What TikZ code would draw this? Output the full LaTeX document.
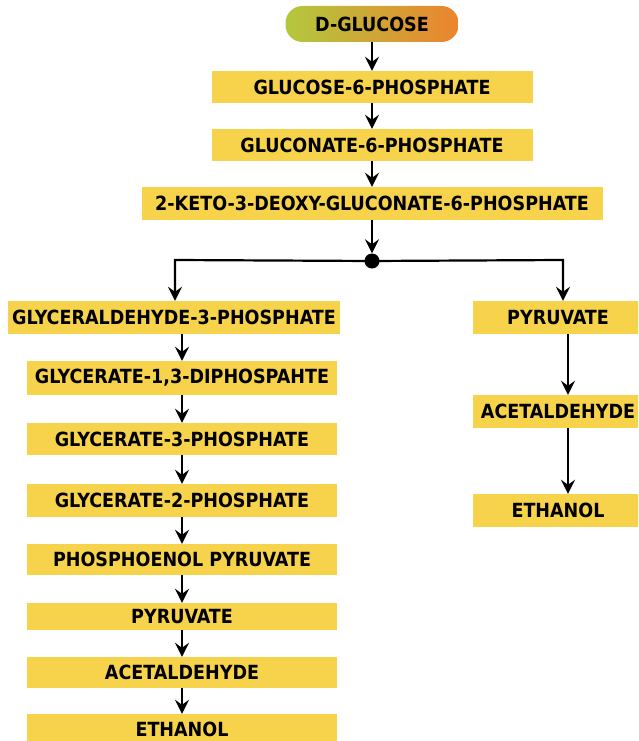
\documentclass[tikz,border=0pt]{standalone}
\usepackage{fontspec}
\setmainfont{DejaVu Sans}
\newfontfamily\boxfont{DejaVu Sans Condensed}
\usetikzlibrary{arrows.meta,shapes.geometric}
\definecolor{boxyellow}{RGB}{247,210,75}
\definecolor{startgreen}{RGB}{178,200,62}
\definecolor{endorange}{RGB}{236,132,46}
\tikzset{
  x=1pt,y=-1pt,
  stepbox/.style={fill=boxyellow, inner sep=0pt, font=\boxfont\bfseries\fontsize{19.5}{20}\selectfont},
  flow/.style={line width=2.2pt, -{Stealth[length=14pt,width=14pt,inset=5pt]}},
}
\begin{document}
\begin{tikzpicture}
\useasboundingbox (0,0) rectangle (638,741);
\clip (0,0) rectangle (638,741);
% start
\node[rounded corners=17pt, left color=startgreen, right color=endorange, minimum width=173pt, minimum height=36pt, inner sep=0pt, font=\boxfont\bfseries\fontsize{19.5}{20}\selectfont] (glc) at (372,24) {D-GLUCOSE};
\node[stepbox, minimum width=321pt, minimum height=32pt] (g6p) at (372,87) {GLUCOSE-6-PHOSPHATE};
\node[stepbox, minimum width=321pt, minimum height=32pt] (gn6p) at (372,145) {GLUCONATE-6-PHOSPHATE};
\node[stepbox, minimum width=461pt, minimum height=33pt] (kdg) at (372,203.5) {2-KETO-3-DEOXY-GLUCONATE-6-PHOSPHATE};
\node[circle, fill=black, minimum size=15pt, inner sep=0pt] (dot) at (372,261) {};
% left branch
\node[stepbox, minimum width=332pt, minimum height=33pt] (ga3p) at (174,317.5) {GLYCERALDEHYDE-3-PHOSPHATE};
\node[stepbox, minimum width=310pt, minimum height=34pt] (g13) at (182,378) {GLYCERATE-1,3-DIPHOSPAHTE};
\node[stepbox, minimum width=310pt, minimum height=32pt] (g3p) at (182,439) {GLYCERATE-3-PHOSPHATE};
\node[stepbox, minimum width=310pt, minimum height=33pt] (g2p) at (182,500.5) {GLYCERATE-2-PHOSPHATE};
\node[stepbox, minimum width=310pt, minimum height=31pt] (pep) at (182,559.5) {PHOSPHOENOL PYRUVATE};
\node[stepbox, minimum width=310pt, minimum height=27pt] (pyr) at (182,616.5) {PYRUVATE};
\node[stepbox, minimum width=310pt, minimum height=31pt] (ald) at (182,672.5) {ACETALDEHYDE};
\node[stepbox, minimum width=310pt, minimum height=31pt] (eth) at (182,729.5) {ETHANOL};
% right branch
\node[stepbox, minimum width=170pt, minimum height=33pt] (rpyr) at (558,317.5) {PYRUVATE};
\node[stepbox, minimum width=170pt, minimum height=33pt] (rald) at (558,411.5) {ACETALDEHYDE};
\node[stepbox, minimum width=170pt, minimum height=33pt] (reth) at (558,510.5) {ETHANOL};
\coordinate (lturn) at (175,260);
\coordinate (rturn) at (563,260);
\coordinate (rcol) at (568,260);
% connectors
\draw[flow] (glc.south) -- (g6p.north);
\draw[flow] (g6p.south) -- (gn6p.north);
\draw[flow] (gn6p.south) -- (kdg.north);
\draw[flow] (kdg.south) -- (dot.north);
\draw[flow] (dot.center) -- (lturn) -- (lturn |- ga3p.north);
\draw[flow] (dot.center) -- (rturn) -- (rturn |- rpyr.north);
\draw[flow] (ga3p.south -| g13.north) -- (g13.north);
\draw[flow] (g13.south) -- (g3p.north);
\draw[flow] (g3p.south) -- (g2p.north);
\draw[flow] (g2p.south) -- (pep.north);
\draw[flow] (pep.south) -- (pyr.north);
\draw[flow] (pyr.south) -- (ald.north);
\draw[flow] (ald.south) -- (eth.north);
\draw[flow] (rpyr.south -| rcol) -- (rald.north -| rcol);
\draw[flow] (rald.south -| rcol) -- (reth.north -| rcol);
\end{tikzpicture}
\end{document}
